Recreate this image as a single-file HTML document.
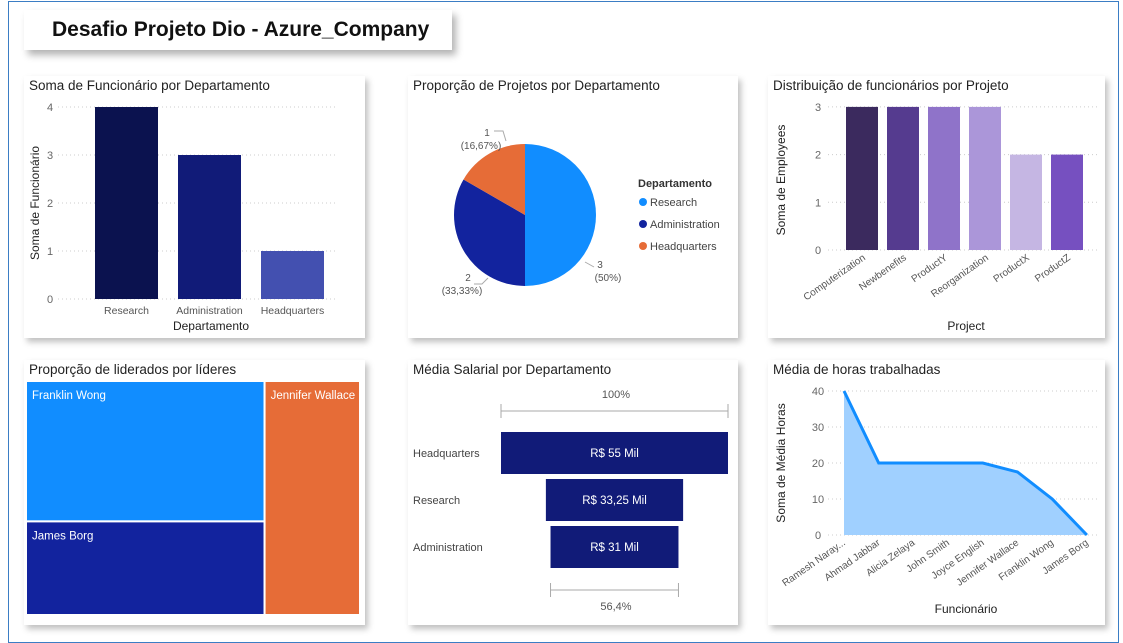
<!DOCTYPE html>
<html><head><meta charset="utf-8"><style>
body{margin:0;width:1123px;height:632px;background:#fff;font-family:"Liberation Sans",sans-serif;overflow:hidden;position:relative}
.frame{position:absolute;left:8px;top:1px;width:1109px;height:640px;border:1px solid #3b7dc4;background:#fff}
.panel{position:absolute;background:#fff;box-shadow:3px 4px 6px rgba(0,0,0,0.25)}
.ptitle{position:absolute;left:5px;top:2px;font-size:13.5px;color:#222;white-space:nowrap}
svg text{font-family:"Liberation Sans",sans-serif}
</style></head><body>
<div class="frame"></div>
<div class="panel" style="left:24px;top:10px;width:428px;height:40px;box-shadow:4px 5px 7px rgba(0,0,0,0.3)"><div style="position:absolute;left:28px;top:8px;font-size:21px;font-weight:bold;color:#111">Desafio Projeto Dio - Azure_Company</div></div>

<div class="panel" style="left:24px;top:76px;width:341px;height:262px"><div class="ptitle">Soma de Funcionário por Departamento</div></div>
<div class="panel" style="left:408px;top:76px;width:330px;height:262px"><div class="ptitle">Proporção de Projetos por Departamento</div></div>
<div class="panel" style="left:768px;top:76px;width:337px;height:262px"><div class="ptitle">Distribuição de funcionários por Projeto</div></div>
<div class="panel" style="left:24px;top:360px;width:341px;height:265px"><div class="ptitle">Proporção de liderados por líderes</div></div>
<div class="panel" style="left:408px;top:360px;width:330px;height:265px"><div class="ptitle">Média Salarial por Departamento</div></div>
<div class="panel" style="left:768px;top:360px;width:337px;height:265px"><div class="ptitle">Média de horas trabalhadas</div></div>

<svg id="s" width="1123" height="632" style="position:absolute;left:0;top:0"></svg>
<script>
const deptCats=["Research","Administration","Headquarters"];
const deptVals=[4,3,1];
const deptTicks=[0,1,2,3,4];
const pieCats=["Research","Administration","Headquarters"];
const pieVals=[3,2,1];
const projCats=["Computerization","Newbenefits","ProductY","Reorganization","ProductX","ProductZ"];
const projVals=[3,3,3,3,2,2];
const projTicks=[0,1,2,3];
const leaders=["Franklin Wong","James Borg","Jennifer Wallace"];
const leaderVals=[3,2,2];
const funnelCats=["Headquarters","Research","Administration"];
const funnelVals=[55,33.25,31];
const funnelLabels=["R$ 55 Mil","R$ 33,25 Mil","R$ 31 Mil"];
const hoursCats=["Ramesh Naray...","Ahmad Jabbar","Alicia Zelaya","John Smith","Joyce English","Jennifer Wallace","Franklin Wong","James Borg"];
const hoursVals=[40,20,20,20,20,17.5,10,0];
const hoursTicks=[0,10,20,30,40];

const S=document.getElementById('s');
function el(t,a,txt){const e=document.createElementNS('http://www.w3.org/2000/svg',t);for(const k in a)e.setAttribute(k,a[k]);if(txt!==undefined)e.textContent=txt;S.appendChild(e);return e;}

// Chart 1
{const y=v=>299-v*48, x0=95, step=83, bw=63;
deptTicks.forEach(t=>{let g=el('line',{x1:58,x2:335,y1:y(t),y2:y(t),stroke:'#ccc','stroke-dasharray':'1,3'});

let l=el('text',{x:50,y:y(t)+4,'font-size':11,fill:'#666','text-anchor':'middle'},t);
});
const cols=['#0b124f','#111b78','#4350b0'];
deptCats.forEach((c,i)=>{let r=el('rect',{x:x0+i*step,y:y(deptVals[i]),width:bw,height:deptVals[i]*48,fill:cols[i]});

let l=el('text',{x:x0+i*step+bw/2,y:314,'font-size':10.5,fill:'#555','text-anchor':'middle'},c);
});
let a=el('text',{x:211,y:330,'font-size':12,fill:'#222','text-anchor':'middle'},'Departamento');
let b=el('text',{x:0,y:0,'font-size':12,fill:'#222','text-anchor':'middle',transform:'translate(39,203) rotate(-90)'},'Soma de Funcionário');}

// Pie
{const cx=525,cy=215,r=71,tot=pieVals.reduce((a,b)=>a+b,0);const cols=['#118dff','#12239e','#e66c37'];let a0=0;
pieVals.forEach((v,i)=>{const a1=a0+v/tot*2*Math.PI;const p=a=>[cx+r*Math.sin(a),cy-r*Math.cos(a)];const [x1,y1]=p(a0),[x2,y2]=p(a1);
let s=el('path',{d:`M${cx},${cy}L${x1},${y1}A${r},${r} 0 ${a1-a0>Math.PI?1:0} 1 ${x2},${y2}Z`,fill:cols[i]});
a0=a1;});
const lab=[[600,268],[468,281],[487,136]];
pieVals.forEach((v,i)=>{const pct=(v/tot*100).toFixed(2).replace(/\.?0+$/,'').replace('.',',');
let t=el('text',{x:lab[i][0],y:lab[i][1],'font-size':10,fill:'#555','text-anchor':'middle'},v);
let t2=el('text',{x:lab[i][0]+(i==0?8:-6),y:lab[i][1]+13,'font-size':10,fill:'#555','text-anchor':'middle'},'('+pct+'%)');});
el('polyline',{points:'585,262 594,267',stroke:'#aaa',fill:'none'});
el('polyline',{points:'474,284 482,284 488,278',stroke:'#aaa',fill:'none'});
el('polyline',{points:'494,131 503,131 506,141',stroke:'#aaa',fill:'none'});
let lt=el('text',{x:638,y:187,'font-size':11,'font-weight':'bold',fill:'#333'},'Departamento');
pieCats.forEach((c,i)=>{let d=el('circle',{cx:643,cy:202+i*22,r:4,fill:cols[i]});
let t=el('text',{x:650,y:206+i*22,'font-size':11,fill:'#444'},c);});}

// Chart 3
{const y=v=>250-v*47.7, x0=846, step=41, bw=32;const cols=['#3b2a5e','#553b8f','#8f73c9','#ab96d9','#c5b6e3','#7650c0'];
projTicks.forEach(t=>{let g=el('line',{x1:828,x2:1100,y1:y(t),y2:y(t),stroke:'#ccc','stroke-dasharray':'1,3'});
let l=el('text',{x:818,y:y(t)+4,'font-size':11,fill:'#666','text-anchor':'middle'},t);});
projCats.forEach((c,i)=>{let r=el('rect',{x:x0+i*step,y:y(projVals[i]),width:bw,height:projVals[i]*47.7,fill:cols[i]});
const cx=x0+i*step+bw/2+4;let l=el('text',{x:0,y:0,'font-size':10,fill:'#555','text-anchor':'end',transform:`translate(${cx},259) rotate(-35)`},c);});
let a=el('text',{x:966,y:330,'font-size':12,fill:'#222','text-anchor':'middle'},'Project');
let b=el('text',{x:0,y:0,'font-size':12,fill:'#222','text-anchor':'middle',transform:'translate(785,180) rotate(-90)'},'Soma de Employees');}

// Treemap
{const tot=leaderVals.reduce((a,b)=>a+b,0);const X=26,Y=381,W=334,H=234;const cols=['#118dff','#12239e','#e66c37'];
const lw=W*(leaderVals[0]+leaderVals[1])/tot;const h0=H*leaderVals[0]/(leaderVals[0]+leaderVals[1]);
const rects=[[X,Y,lw,h0],[X,Y+h0,lw,H-h0],[X+lw,Y,W-lw,H]];
rects.forEach((r,i)=>{let e=el('rect',{x:r[0],y:r[1],width:r[2],height:r[3],fill:cols[i],stroke:'#fff','stroke-width':2});
let t=el('text',{x:r[0]+6,y:r[1]+18,'font-size':11.5,fill:'#fff'},leaders[i]);});}

// Funnel
{const cx=614.5,maxW=227,bh=42;
let p=el('text',{x:616,y:398,'font-size':11,fill:'#555','text-anchor':'middle'},'100%');
const w0=maxW;el('path',{d:`M${cx-w0/2},404V418M${cx-w0/2},411H${cx+w0/2}M${cx+w0/2},404V418`,stroke:'#aaa',fill:'none'});
funnelCats.forEach((c,i)=>{const w=maxW*funnelVals[i]/funnelVals[0];const y=432+i*47;
let r=el('rect',{x:cx-w/2,y:y,width:w,height:bh,fill:'#111b78'});
let v=el('text',{x:cx,y:y+25,'font-size':11.5,fill:'#fff','text-anchor':'middle'},funnelLabels[i]);
let l=el('text',{x:413,y:y+25,'font-size':11,fill:'#444'},c);});
const wl=maxW*funnelVals[2]/funnelVals[0];el('path',{d:`M${cx-wl/2},583V597M${cx-wl/2},590H${cx+wl/2}M${cx+wl/2},583V597`,stroke:'#aaa',fill:'none'});
let q=el('text',{x:616,y:610,'font-size':11,fill:'#555','text-anchor':'middle'},(funnelVals[2]/funnelVals[0]*100).toFixed(1).replace('.',',')+'%');}

// Area chart
{const y=v=>535-v*3.6, x=i=>844+i*34.7;
hoursTicks.forEach(t=>{let g=el('line',{x1:828,x2:1100,y1:y(t),y2:y(t),stroke:'#ccc','stroke-dasharray':'1,3'});
let l=el('text',{x:818,y:y(t)+4,'font-size':11,fill:'#666','text-anchor':'middle'},t);});
const pts=hoursVals.map((v,i)=>x(i)+','+y(v)).join(' ');
let ar=el('polygon',{points:`${x(0)},${y(0)} ${pts} ${x(hoursVals.length-1)},${y(0)}`,fill:'#a0d0ff'});
let ln=el('polyline',{points:pts,fill:'none',stroke:'#118dff','stroke-width':3});
hoursCats.forEach((c,i)=>{let l=el('text',{x:0,y:0,'font-size':10,fill:'#555','text-anchor':'end',transform:`translate(${x(i)+2},544) rotate(-35)`},c);});
let a=el('text',{x:966,y:613,'font-size':12,fill:'#222','text-anchor':'middle'},'Funcionário');
let b=el('text',{x:0,y:0,'font-size':12,fill:'#222','text-anchor':'middle',transform:'translate(785,463) rotate(-90)'},'Soma de Média Horas');}
</script>
</body></html>
